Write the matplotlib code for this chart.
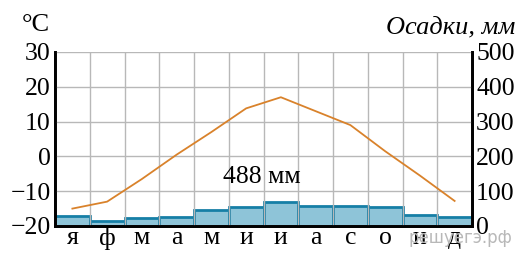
import matplotlib
matplotlib.use("Agg")
import matplotlib.pyplot as plt
import numpy as np

# climate data
months = ["я", "ф", "м", "а", "м", "и", "и", "а", "с", "о", "н", "д"]
temp = [-15.0, -13.0, -6.5, 0.5, 7.0, 13.8, 17.0, 13.0, 9.0, 1.5, -5.5, -12.8]
precip = [28, 14, 22, 27, 45, 54, 70, 57, 57, 54, 33, 27]
total = "488 мм"

plt.rcParams["font.family"] = ["Liberation Serif", "DejaVu Serif"]

fig = plt.figure(figsize=(5.2, 2.54), dpi=100)
ax = fig.add_axes([55 / 520, 28 / 254, 417 / 520, 174 / 254])
ax2 = ax.twinx()

x = np.arange(len(months))

ax.set_xlim(-0.5, 11.5)
ax.set_ylim(-20, 30)
ax.set_yticks(range(-20, 31, 10))
ax.set_yticklabels(["\u221220", "\u221210", "0", "10", "20", "30"])
ax.set_xticks(np.arange(-0.5, 12, 1), minor=False)
ax.set_xticklabels([])
ax.set_xticks(x, minor=True)
ax.set_xticklabels(months, minor=True)
ax.grid(True, color="#b8b8b8", linewidth=1.0)
ax.tick_params(axis="both", which="both", length=0, labelsize=18.5, pad=3)
ax.tick_params(axis="x", which="minor", pad=1)

ax2.set_ylim(0, 500)
ax2.set_yticks(range(0, 501, 100))
ax2.tick_params(axis="y", length=0, labelsize=18.5, pad=3)
ax2.bar(x, precip, width=1.0, color="#8ec4d8", edgecolor="#167fa6", linewidth=2)

ax.set_zorder(ax2.get_zorder() + 1)
ax.patch.set_visible(False)
ax.plot(x, temp, color="#d9822b", linewidth=1.3)

for a in (ax, ax2):
    a.spines["top"].set_visible(False)
    a.spines["left"].set_linewidth(2)
    a.spines["right"].set_linewidth(2)
    a.spines["bottom"].set_linewidth(2)

ax.text(5.46, -6.0, total, fontsize=18.5, ha="center", va="center")
fig.text(22 / 520, 1 - 25 / 254, "°C", fontsize=19, ha="left", va="center")
fig.text(515 / 520, 1 - 27 / 254, "Осадки, мм", fontsize=19, style="italic",
         ha="right", va="center")
fig.text(460 / 520, 1 - 238 / 254, "решуегэ.рф", fontsize=12, color="#b8b8b8",
         family="DejaVu Sans", ha="center", va="center")

fig.savefig("out.png", dpi=100)
